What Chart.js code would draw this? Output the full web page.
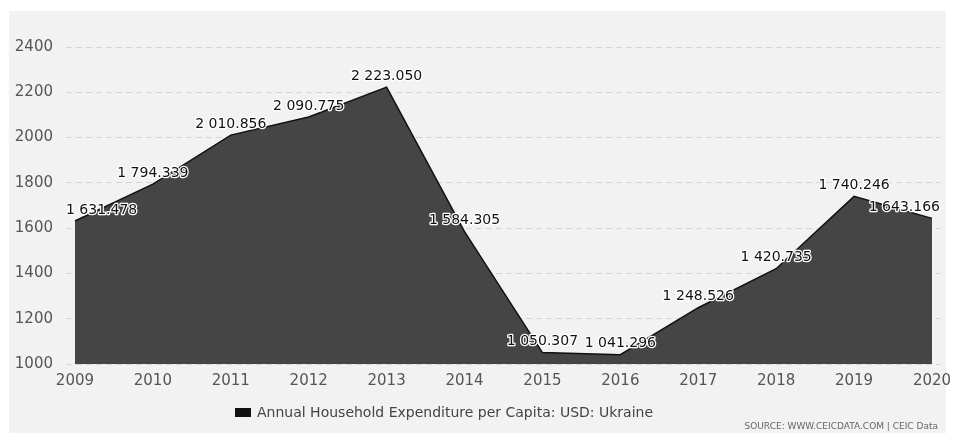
<!DOCTYPE html>
<html>
<head>
<meta charset="utf-8">
<script src="https://cdn.jsdelivr.net/npm/chart.js@4/dist/chart.umd.min.js"></script>
<style>
  html, body { margin: 0; padding: 0; background: #fff; }
  #wrap { width: 956px; height: 433px; position: relative; }
</style>
</head>
<body>
<div id="wrap"><canvas id="chart-1" width="956" height="433"></canvas></div>
<script>
const years = [2009, 2010, 2011, 2012, 2013, 2014, 2015, 2016, 2017, 2018, 2019, 2020];
const expenditure = [1631.478, 1794.339, 2010.856, 2090.775, 2223.050, 1584.305, 1050.307, 1041.296, 1248.526, 1420.735, 1740.246, 1643.166];
const yTicks = [1000, 1200, 1400, 1600, 1800, 2000, 2200, 2400];
const seriesName = 'Annual Household Expenditure per Capita: USD: Ukraine';
const sourceText = 'SOURCE: WWW.CEICDATA.COM | CEIC Data';

// "1 631.478" style
function fmt(v) {
  const parts = v.toFixed(3).split('.');
  return parts[0].replace(/\B(?=(\d{3})+(?!\d))/g, ' ') + '.' + parts[1];
}

const panel = {
  id: 'panel',
  beforeDraw(chart) {
    const c = chart.ctx;
    c.save();
    c.fillStyle = '#f2f2f2';
    c.fillRect(9, 11, 937, 422);
    c.restore();
  }
};

const valueLabels = {
  id: 'valueLabels',
  afterDatasetsDraw(chart) {
    const c = chart.ctx;
    const area = chart.chartArea;
    const meta = chart.getDatasetMeta(0);
    c.save();
    c.font = '14px "DejaVu Sans", sans-serif';
    c.textBaseline = 'bottom';
    c.textAlign = 'left';
    c.lineJoin = 'round';
    meta.data.forEach((pt, i) => {
      const txt = fmt(expenditure[i]);
      const w = c.measureText(txt).width;
      let x = pt.x - w / 2;
      x = Math.max(area.left, Math.min(x, area.right - w));
      const y = pt.y - 4;
      c.strokeStyle = '#fff';
      c.lineWidth = 2.5;
      c.strokeText(txt, x, y);
      c.fillStyle = '#111';
      c.fillText(txt, x, y);
    });
    c.restore();
  }
};

const footer = {
  id: 'footer',
  afterDraw(chart) {
    const c = chart.ctx;
    c.save();
    c.fillStyle = '#111';
    c.fillRect(235, 408, 16, 9);
    c.font = '14px "DejaVu Sans", sans-serif';
    c.fillStyle = '#444';
    c.textBaseline = 'middle';
    c.textAlign = 'left';
    c.fillText(seriesName, 257, 413);
    c.font = '9px "DejaVu Sans", sans-serif';
    c.fillStyle = '#666';
    c.textAlign = 'right';
    c.fillText(sourceText, 938, 427);
    c.restore();
  }
};

const ctx1 = document.getElementById('chart-1').getContext('2d');
const myChart = new Chart(ctx1, {
    type: 'line',
    data: {
        datasets: [{
            label: seriesName,
            data: years.map((yr, i) => ({ x: yr, y: expenditure[i] })),
            borderColor: '#111',
            borderWidth: 1.5,
            backgroundColor: '#454545',
            fill: 'start',
            pointRadius: 0,
            tension: 0,
        }],
    },
    options: {
      responsive: false,
      animation: false,
      layout: { padding: { left: 0, right: 16, top: 47, bottom: 39 } },
      plugins: {
        legend: { display: false },
        tooltip: { enabled: false },
      },
      scales: {
        x: {
          type: 'linear',
          min: 2008.885,
          max: 2020.103,
          afterBuildTicks: s => { s.ticks = years.map(v => ({ value: v })); },
          afterFit: s => { s.height = 30; },
          grid: { display: false },
          border: { display: false },
          ticks: {
            callback: v => String(v),
            color: '#555',
            font: { family: '"DejaVu Sans", sans-serif', size: 15 },
            padding: 0,
            maxRotation: 0,
            autoSkip: false,
          },
        },
        y: {
          min: 1000,
          max: 2400,
          afterBuildTicks: s => { s.ticks = yTicks.map(v => ({ value: v })); },
          afterFit: s => { s.width = 66; },
          border: { display: false, dash: [6, 4] },
          grid: { color: '#d4d4d4', lineWidth: 1, drawTicks: false },
          ticks: {
            callback: v => String(v),
            color: '#555',
            font: { family: '"DejaVu Sans", sans-serif', size: 15 },
            padding: 13,
          },
        },
      },
    },
    plugins: [panel, valueLabels, footer],
});
</script>
</body>
</html>
